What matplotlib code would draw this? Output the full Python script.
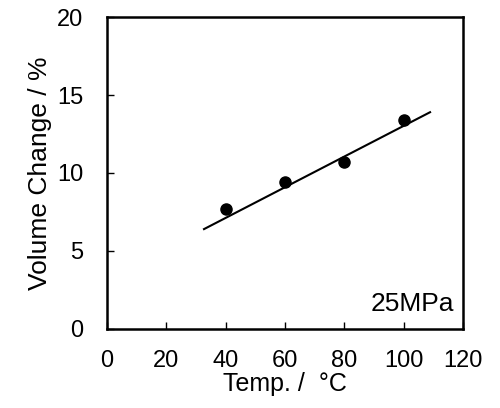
import matplotlib
matplotlib.use("Agg")
import matplotlib.pyplot as plt

# data
temp = [40, 60, 80, 100]
volume_change = [7.7, 9.4, 10.7, 13.4]
fit_x = [32.7, 108.9]
fit_y = [6.4, 13.9]

plt.rcParams['font.family'] = ['Liberation Sans', 'DejaVu Sans']

fig = plt.figure(figsize=(5, 4.08), dpi=100)
ax = fig.add_axes([0.214, 0.194, 0.712, 0.764])

ax.plot(fit_x, fit_y, color='black', linewidth=1.5)
ax.plot(temp, volume_change, 'o', color='black', markersize=8)

ax.set_xlim(0, 120)
ax.set_ylim(0, 20)
ax.set_xticks([0, 20, 40, 60, 80, 100, 120])
ax.set_yticks([0, 5, 10, 15, 20])
ax.tick_params(direction='in', length=5, width=1, labelsize=17)
ax.tick_params(axis='x', pad=15)
ax.tick_params(axis='y', pad=17)
for s in ax.spines.values():
    s.set_linewidth(1.8)

ax.set_xlabel("Temp. /  \u00b0C", fontsize=18, labelpad=0)
ax.set_ylabel("Volume Change / %", fontsize=19, labelpad=4)
ax.text(0.975, 0.04, "25MPa", transform=ax.transAxes, ha='right', va='bottom', fontsize=19)

fig.savefig("out.png", dpi=100)
